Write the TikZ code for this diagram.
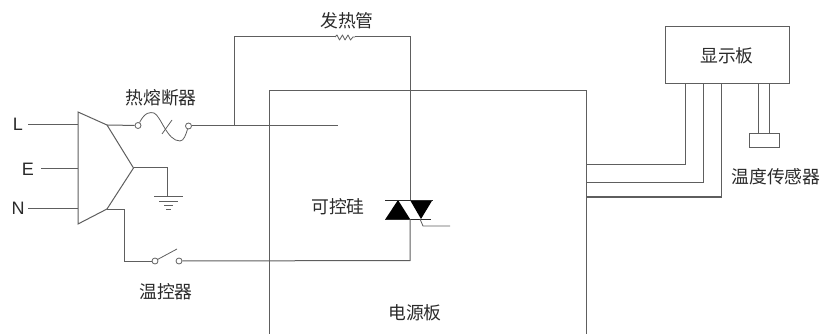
\documentclass[tikz,border=0pt]{standalone}
\usepackage{fontspec}
\setmainfont{Liberation Sans}
\newfontfamily\cjk{Noto Sans CJK SC}
\usetikzlibrary{calc}
\definecolor{wire}{HTML}{5E5E5E}
\definecolor{ink}{HTML}{2A2A2A}
\tikzset{
  wireline/.style={draw=wire,line width=1pt},
  thinwire/.style={draw=wire,line width=0.8pt},
  cnlabel/.style={font=\cjk\fontsize{17.8}{20}\selectfont,text=ink,inner sep=0pt},
  letter/.style={font=\fontsize{18}{20}\selectfont,text=ink,inner sep=0pt},
  terminal/.style={circle,draw=wire,line width=0.8pt,fill=white,minimum size=6pt,inner sep=0pt},
  boxnode/.style={rectangle,draw=wire,line width=1pt,inner sep=0pt},
}
\begin{document}
\begin{tikzpicture}[x=1pt,y=-1pt]
\useasboundingbox (0,0) rectangle (825,334);
% text
\node[letter] (tL) at (18,124) {L};
\node[letter] (tE) at (28,169) {E};
\node[letter] (tN) at (18,208.5) {N};
\node[cnlabel] at (161,98) {热熔断器};
\node[cnlabel] at (347,21) {发热管};
\node[cnlabel] at (338,207) {可控硅};
\node[cnlabel] at (166,292) {温控器};
\node[cnlabel] at (415,313) {电源板};
\node[cnlabel] at (776,177) {温度传感器};
% free coordinates
\coordinate (inL) at (28,125);
\coordinate (inE) at (41,169);
\coordinate (inN) at (28,208.5);
\coordinate (pL) at (78,125);
\coordinate (pE) at (78,169);
\coordinate (pN) at (78,208.5);
\coordinate (t1) at (78,112);
\coordinate (t2) at (107,125);
\coordinate (t3) at (133.5,168);
\coordinate (t4) at (107,209);
\coordinate (t5) at (78,224);
\coordinate (lineEnd) at (338,126);
\coordinate (heatJ) at (234,126);
\coordinate (heatTL) at (234,37);
\coordinate (heatTR) at (410,37);
\coordinate (resL) at (335,37);
\coordinate (resR) at (355,37);
\coordinate (triTop) at (410,200);
\coordinate (triBot) at (410,219);
\coordinate (retC) at (410,260.5);
% wedge
\draw[wireline,line join=miter] (t1) -- (t2) -- (t3) -- (t4) -- (t5) -- cycle;
\draw[wireline] (inL) -- (pL);
\draw[wireline] (inE) -- (pE);
\draw[wireline] (inN) -- (pN);
% power board
\draw[wireline] (269,334) -- (269,91) -- (586,91) -- (586,334);
% fuse
\node[terminal] (f1) at (138,125.5) {};
\node[terminal] (f2) at (188.5,126) {};
\draw[wireline] (t2) -- (f1);
\draw[thinwire] (f1) .. controls (145,112) and (150,112) .. (154,113) .. controls (161,116) and (167,141) .. (180,141) .. controls (184,141) and (186,134) .. (f2);
\draw[thinwire] (162,134) -- (172,120);
\draw[wireline] (f2) -- (lineEnd);
% heater
\draw[wireline] (heatJ) -- (heatTL) -- (resL);
\draw[thinwire,line join=round] (resL) -- (337,35) -- (339.5,40) -- (342.5,35) -- (345,40) -- (348,35) -- (350.5,40) -- (353,37) -- (resR);
\draw[wireline] (resR) -- (heatTR) -- (triTop);
% triac
\fill[black] (385.5,219) -- (398,200) -- (410,219) -- cycle;
\fill[black] (410,200) -- (432.5,200) -- (421,219) -- cycle;
\draw[thinwire,draw=ink] (385,200) -- (433,200);
\draw[thinwire,draw=ink] (385,219) -- (431,219);
\draw[thinwire] (420,219) -- (423,226) -- (450,226);
% return and thermostat
\node[terminal] (s1) at (155,261) {};
\node[terminal] (s2) at (179,261) {};
\draw[wireline] (t4) -- (124,209) -- (124,261) -- (s1);
\draw[thinwire] (157.5,259.5) -- (177,249);
\draw[wireline] (s2) -- (retC) -- (triBot);
% ground
\draw[wireline] (t3) -- (167,168) -- (167,196);
\draw[thinwire] (154,196) -- (183,196);
\draw[thinwire] (159,201) -- (178,201);
\draw[thinwire] (164,205.5) -- (173,205.5);
\draw[thinwire] (166,209) -- (171,209);
% display board
\node[boxnode,minimum width=124pt,minimum height=57pt] (disp) at (727,55.5) {};
\node[cnlabel] at (disp) {显示板};
\draw[wireline] (586,165) -- (685,165) -- (685,84);
\draw[wireline] (586,183) -- (703,183) -- (703,84);
\draw[wireline] (586,197) -- (721,197) -- (721,84);
% sensor
\node[boxnode,minimum width=30pt,minimum height=13.5pt] (sens) at (764,140.5) {};
\draw[wireline] (758,84) -- (758,134);
\draw[wireline] (769,84) -- (769,134);
\end{tikzpicture}
\end{document}
